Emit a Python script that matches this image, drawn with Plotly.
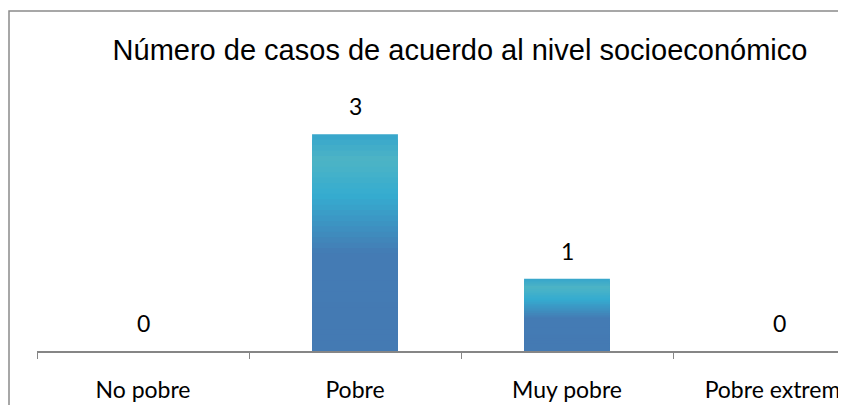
import plotly.graph_objects as go

categories = ["No pobre", "Pobre", "Muy pobre", "Pobre extremo"]
values = [0, 3, 1, 0]
title_text = "Número de casos de acuerdo al nivel socioeconómico"

# gradient stops (position from top of bar, colour)
stops = [(0.0, (54, 166, 204)), (0.12, (77, 180, 197)), (0.28, (53, 172, 208)),
         (0.55, (68, 123, 180)), (1.0, (68, 122, 179))]

def col_at(p):
    for (p0, c0), (p1, c1) in zip(stops[:-1], stops[1:]):
        if p0 <= p <= p1:
            t = (p - p0) / (p1 - p0) if p1 > p0 else 0
            c = [round(a + (b - a) * t) for a, b in zip(c0, c1)]
            return "rgb(%d,%d,%d)" % tuple(c)
    return "rgb(%d,%d,%d)" % stops[-1][1]

# page is offset by the 8px body margin; layout below is in figure pixels
L, B, T = 29, 62, 54
PW = 846 - L
PH = 405 - T - B
CAT = 212

N = 40
fig = go.Figure()
for k in range(N, 0, -1):
    f = k / N
    p_mid = 1 - (k - 0.5) / N
    fig.add_trace(go.Bar(x=categories, y=[v * f for v in values],
                         marker=dict(color=col_at(p_mid), line=dict(width=0)),
                         width=0.405, hoverinfo="skip", showlegend=False))

for c, v in zip(categories, values):
    fig.add_annotation(x=c, y=v, text=str(v), showarrow=False, yanchor="bottom",
                       yshift=12, font=dict(family="Lato", size=23, color="#000"))

fig.update_layout(
    width=846, height=405, barmode="overlay",
    margin=dict(l=L, r=0, t=T, b=B),
    paper_bgcolor="white", plot_bgcolor="white",
    title=dict(text=title_text, x=(452 - L) / PW, xref="paper", xanchor="center",
               y=1 - 42 / 405, yanchor="middle",
               font=dict(family="Liberation Sans", size=29, color="#000")),
    xaxis=dict(range=[-0.5, -0.5 + PW / CAT], showline=True, linecolor="#868686", linewidth=2,
               ticks="outside", tickson="boundaries", ticklen=6, tickwidth=1, tickcolor="#868686",
               ticklabelstandoff=17, showgrid=False,
               tickfont=dict(family="Lato", size=23, color="#000")),
    yaxis=dict(range=[0, 4.0], visible=False, showgrid=False, zeroline=False),
    shapes=[dict(type="rect", xref="paper", yref="paper",
                 x0=(1 - L) / PW, x1=1.05, y0=-0.3, y1=(343 - 3) / PH,
                 line=dict(color="#8a8a8a", width=1.5), layer="below")],
)
fig.write_html("out.html", config={"displayModeBar": False},
               post_script="document.documentElement.style.overflow='hidden';")
